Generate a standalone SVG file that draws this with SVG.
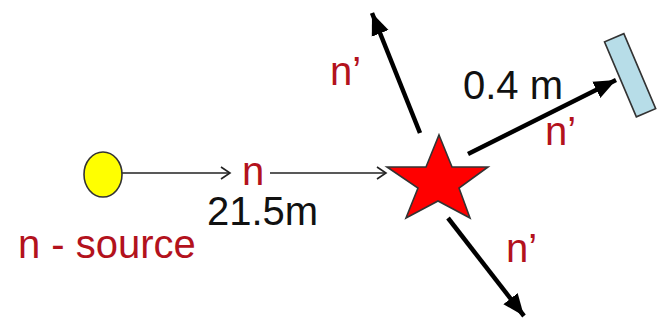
<svg xmlns="http://www.w3.org/2000/svg" width="657" height="321" viewBox="0 0 657 321">
<style>
.red{font-family:"Liberation Sans",Arial,sans-serif;font-size:40px;fill:#b3121d}
.blk{font-family:"Liberation Sans",Arial,sans-serif;font-size:40px;fill:#111}
.thin{stroke:#222;stroke-width:1.6;fill:none}
.thick{stroke:#000;stroke-width:4.5;fill:none}
</style>
<defs>
<marker id="open" markerWidth="12" markerHeight="14" refX="10" refY="7" orient="auto" markerUnits="userSpaceOnUse">
<path d="M1,1 L10,7 L1,13" fill="none" stroke="#222" stroke-width="1.6"/>
</marker>
<marker id="solid" markerWidth="24" markerHeight="20" refX="22" refY="10" orient="auto" markerUnits="userSpaceOnUse">
<path d="M0,1 L22,10 L0,19 Z" fill="#000"/>
</marker>
</defs>
<rect width="657" height="321" fill="#fff"/>
<g id="connectors">
<line class="thin" x1="122" y1="173" x2="230" y2="173" marker-end="url(#open)"/>
<line class="thin" x1="270" y1="173" x2="386" y2="173" marker-end="url(#open)"/>
<line class="thick" x1="420" y1="133" x2="372" y2="13" marker-end="url(#solid)"/>
<line class="thick" x1="468" y1="154" x2="616" y2="80" marker-end="url(#solid)"/>
<line class="thick" x1="448" y1="218" x2="524" y2="316" marker-end="url(#solid)"/>
</g>
<g id="source">
<ellipse cx="103" cy="174.5" rx="19" ry="22.5" fill="#ffff00" stroke="#333" stroke-width="1.6"/>
<text class="red" x="18" y="258">n - source</text>
</g>
<g id="target">
<polygon points="439,135 452,167 488,167 459,188 470,218 438,201 406,218 418,188 387,167 426,167" fill="#ff0000" stroke="#333" stroke-width="1.6" stroke-linejoin="miter"/>
</g>
<g id="detector">
<rect x="619.5" y="34.5" width="21" height="81.5" fill="#b7dde8" stroke="#333" stroke-width="1.6" transform="rotate(-23 630 75)"/>
</g>
<g id="labels">
<text class="red" x="242" y="185">n</text>
<text class="blk" x="207" y="225">21.5m</text>
<text class="blk" x="463" y="99">0.4 m</text>
<text class="red" x="330" y="85">n’</text>
<text class="red" x="545" y="145">n’</text>
<text class="red" x="506" y="262">n’</text>
</g>
</svg>
